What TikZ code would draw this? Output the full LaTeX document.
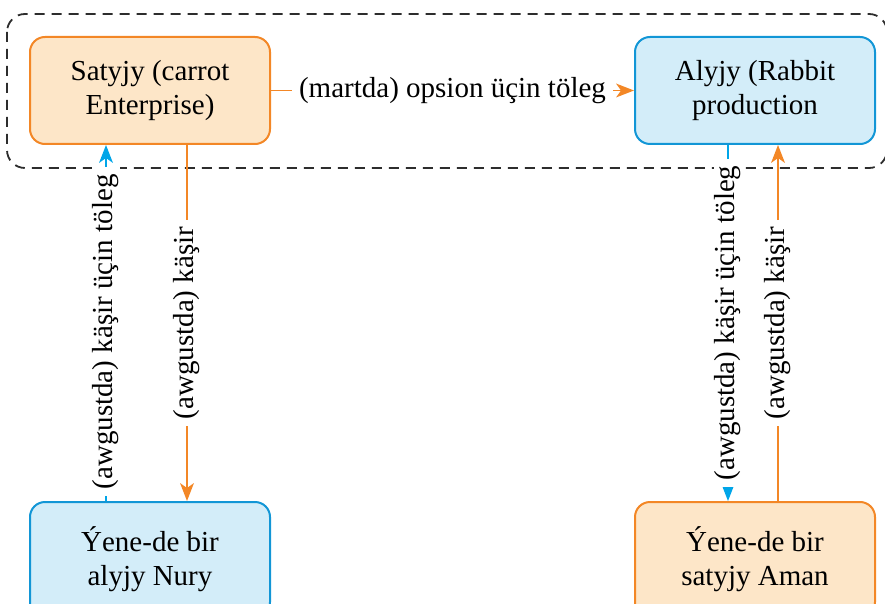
\documentclass[tikz,border=0pt]{standalone}
\usepackage{fontspec}
\setmainfont{Liberation Serif}
\usepackage{tikz}
\usetikzlibrary{arrows.meta,positioning,calc}

\definecolor{sellorange}{RGB}{243,135,38}
\definecolor{sellfill}{RGB}{253,230,200}
\definecolor{buyblue}{RGB}{18,150,214}
\definecolor{buyfill}{RGB}{211,237,249}
\definecolor{paycyan}{RGB}{0,165,232}
\definecolor{dashgray}{RGB}{45,45,45}

\begin{document}
\begin{tikzpicture}[line width=1.8pt,
  font=\fontsize{29}{34}\selectfont,
  party node/.style={rectangle,rounded corners=15pt,line width=2pt,minimum width=240pt,
    minimum height=107pt,align=center,inner sep=0pt},
  seller/.style={party node,draw=sellorange,fill=sellfill},
  buyer/.style={party node,draw=buyblue,fill=buyfill},
  tip/.style={-{Stealth[length=18pt,width=14pt,inset=5pt,line width=0pt]}},
  cash/.style={tip,draw=paycyan},
  goods/.style={tip,draw=sellorange},
  lab/.style={fill=white,inner xsep=7pt,inner ysep=1pt}]

  \useasboundingbox (0,0) rectangle (885pt,603pt);

  \node[seller] (carrot) at (150pt,512.5pt) {Satyjy (carrot\\Enterprise)};
  \node[buyer] (rabbit) [right=363pt of carrot] {Alyjy (Rabbit\\production};
  \node[buyer,minimum height=115pt] (nury) [below=356pt of carrot] {Ýene-de bir\\alyjy Nury};
  \node[seller,minimum height=115pt] (aman) [below=356pt of rabbit] {Ýene-de bir\\satyjy Aman};

  \draw[dashgray,line width=1.8pt,dash pattern=on 10pt off 7pt,rounded corners=18pt]
    ($(carrot.north west)+(-22pt,22pt)$) rectangle ($(rabbit.south east)+(11pt,-23pt)$);

  \path
    (carrot) edge[goods] node[lab] {(martda) opsion üçin töleg} (rabbit)
    ([xshift=-44pt]nury.north) edge[cash] node[lab,rotate=90,pos=.475] {(awgustda) käşir üçin töleg} ([xshift=-44pt]carrot.south)
    ([xshift=37pt]carrot.south) edge[goods] node[lab,rotate=90] {(awgustda) käşir} ([xshift=37pt]nury.north)
    ([xshift=-27pt]rabbit.south) edge[cash] node[lab,rotate=90] {(awgustda) käşir üçin töleg} ([xshift=-27pt]aman.north)
    ([xshift=23pt]aman.north) edge[goods] node[lab,rotate=90] {(awgustda) käşir} ([xshift=23pt]rabbit.south);
\end{tikzpicture}
\end{document}
